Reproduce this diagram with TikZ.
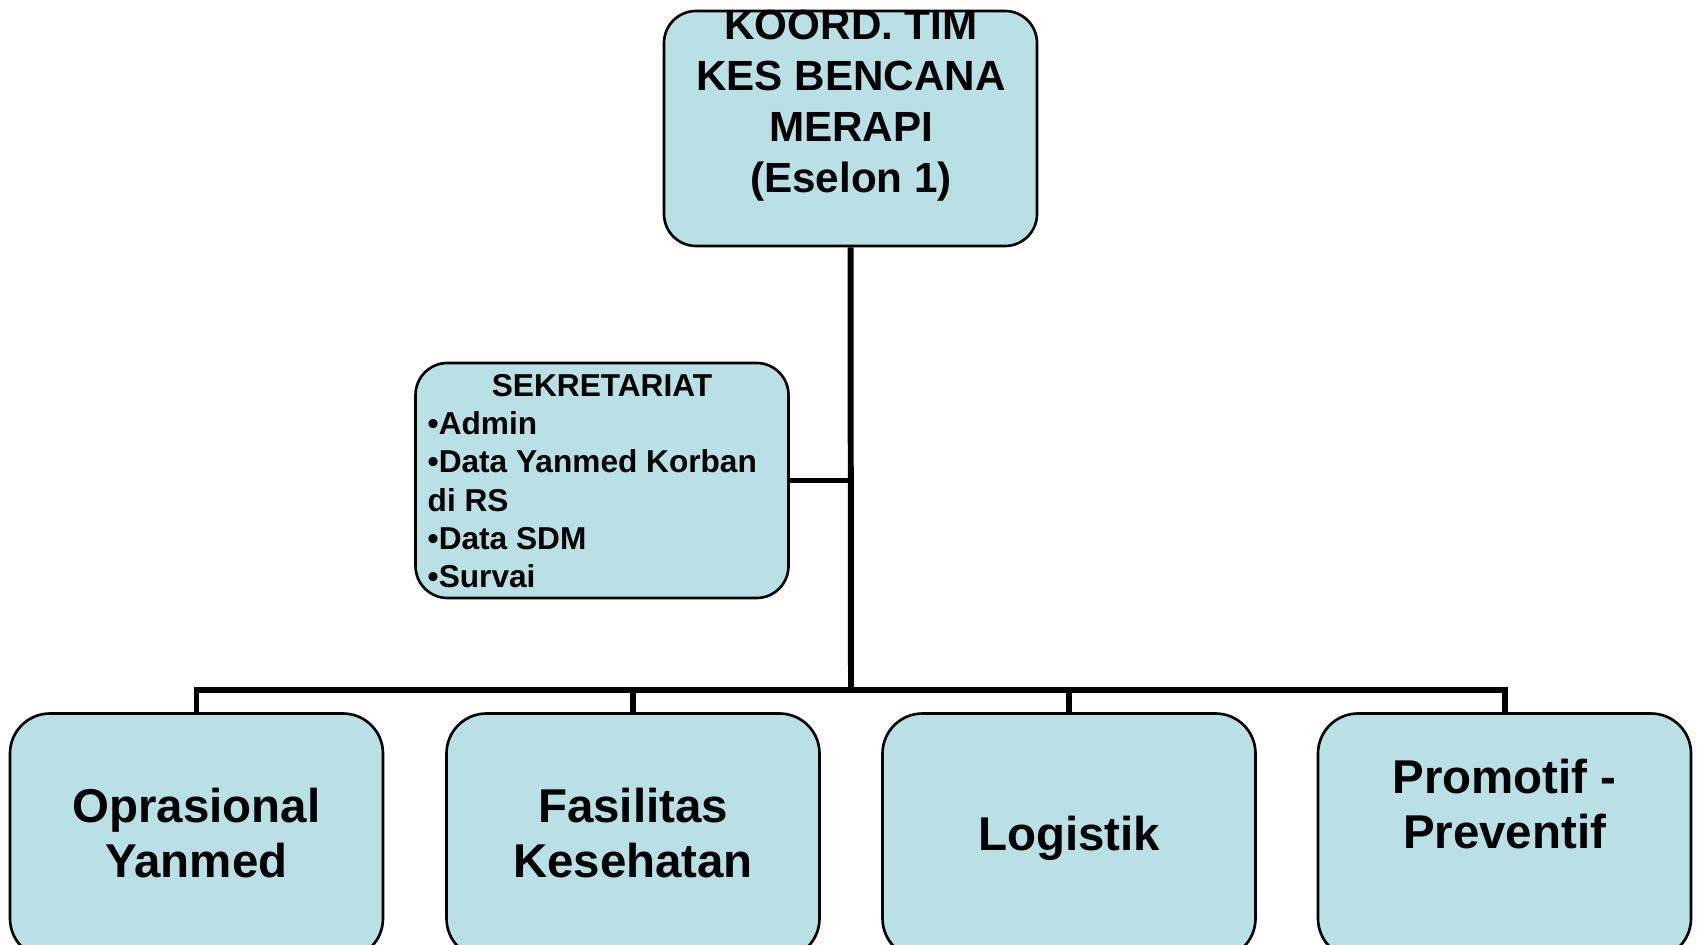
\documentclass[tikz,border=0pt]{standalone}
\usepackage{fontspec}
\setmainfont{Liberation Sans}
\usepackage{xcolor}
\usetikzlibrary{positioning, calc}
\definecolor{boxfill}{RGB}{185,224,228}
\tikzset{
    unitbox/.style={draw, line width=0.75pt, fill=boxfill, rounded corners=0.32cm, minimum width=3.73cm, minimum height=2.35cm, inner sep=0pt},
    lowbox/.style={unitbox, minimum height=2.45cm, rounded corners=0.4cm},
    link/.style={line width=1.7pt},
    toptext/.style={inner sep=0pt, align=center, font=\bfseries\fontsize{12}{14.5}\selectfont},
    sektext/.style={inner sep=0pt, align=left, font=\bfseries\fontsize{9}{10.9}\selectfont},
    unittext/.style={inner sep=0pt, align=center, font=\bfseries\fontsize{13.5}{15.9}\selectfont}
}

\begin{document}
\begin{tikzpicture}
    \useasboundingbox (0,0) rectangle (16.98,9.44);
    % Koordinator
    \node[unitbox] (koord) at (8.505,8.155) {};
    % Sekretariat
    \node[unitbox] (sekr) at (6.02,4.635) {};
    % Units below
    \node[lowbox] (opr) at (1.965,1.08) {};
    \node[lowbox] (fas) at (6.33,1.08) {};
    \node[lowbox] (log) at (10.69,1.08) {};
    \node[lowbox] (pro) at (15.045,1.08) {};
    % Lines
    \coordinate (bus) at (8.51,2.54);
    \draw[link] (koord.south) -- (bus);
    \draw[link] (sekr.east) -- (sekr.east -| bus);
    \foreach \u in {opr,fas,log,pro}
        \draw[link] (\u.north) |- (bus);
    % Texts
    \node[toptext] (koordtext) at (8.51,8.38) {KOORD. TIM\\KES BENCANA\\MERAPI\\(Eselon 1)};
    \node[sektext] (sekrtitle) at (6.02,5.58) {SEKRETARIAT};
    \node[sektext, anchor=west] (sekrlist) at (4.27,4.44) {•Admin\\•Data Yanmed Korban\\di RS\\•Data SDM\\•Survai};
    \node[unittext] (oprtext) at (1.965,1.11) {Oprasional\\Yanmed};
    \node[unittext] (fastext) at (6.33,1.11) {Fasilitas\\Kesehatan};
    \node[unittext] (logtext) at (10.69,1.06) {Logistik};
    \node[unittext] (protext) at (15.045,1.40) {Promotif -\\Preventif};
\end{tikzpicture}
\end{document}
